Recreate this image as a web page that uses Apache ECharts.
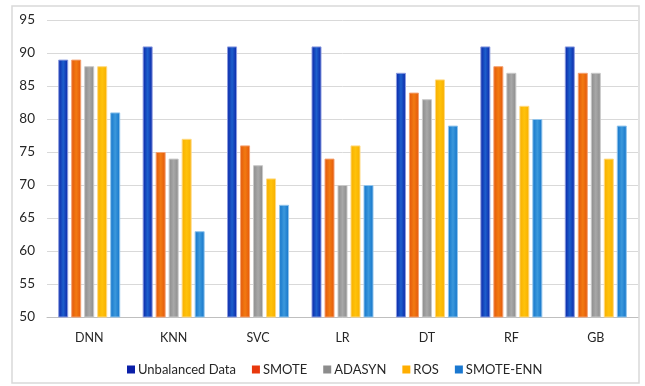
<!DOCTYPE html>
<html>
<head>
<meta charset="utf-8">
<script src="https://cdn.jsdelivr.net/npm/echarts@6/dist/echarts.min.js"></script>
<style>
  html, body { margin: 0; padding: 0; background: #fff; }
  #chart { width: 645px; height: 386px; }
</style>
</head>
<body>
<div id="chart"></div>
<script>
// Accuracy (%) of each classifier under different resampling strategies
const categories = ['DNN', 'KNN', 'SVC', 'LR', 'DT', 'RF', 'GB'];
const seriesNames = ['Unbalanced Data', 'SMOTE', 'ADASYN', 'ROS', 'SMOTE-ENN'];
const unbalanced = [89, 91, 91, 91, 87, 91, 91];
const smote      = [89, 75, 76, 74, 84, 88, 87];
const adasyn     = [88, 74, 73, 70, 83, 87, 87];
const ros        = [88, 77, 71, 76, 86, 82, 74];
const smoteEnn   = [81, 63, 67, 70, 79, 80, 79];
const yTicks = { min: 50, max: 95, interval: 5 };

const values = [unbalanced, smote, adasyn, ros, smoteEnn];

// edge / centre / border / legend colours per series
const palette = [
  { edge: '#0a23a6', mid: '#1d5fcc', border: '#8c9ce0', legend: '#0a1fa8' },
  { edge: '#e2560a', mid: '#f27a12', border: '#f4a070', legend: '#e8380c' },
  { edge: '#8a8a8a', mid: '#a8a8a8', border: '#c8c8c8', legend: '#8c8c8c' },
  { edge: '#f7ae00', mid: '#ffc20a', border: '#ffd980', legend: '#ffae00' },
  { edge: '#1172c8', mid: '#3b98dc', border: '#90c4ec', legend: '#1a78d0' }
];

function barFill(p) {
  return new echarts.graphic.LinearGradient(0, 0, 1, 0, [
    { offset: 0, color: p.edge },
    { offset: 0.5, color: p.mid },
    { offset: 1, color: p.edge }
  ]);
}

const chart = echarts.init(document.getElementById('chart'), null, { renderer: 'canvas' });

const fontFamily = 'Lato, "Open Sans", sans-serif';

chart.setOption({
  animation: false,
  backgroundColor: '#ffffff',
  textStyle: { fontFamily: fontFamily },
  graphic: [{
    type: 'rect',
    shape: { x: 12, y: 6, width: 627, height: 377 },
    style: { fill: 'none', stroke: '#d9d9d9', lineWidth: 1.5 },
    silent: true
  }],
  grid: { left: 47, right: 7, top: 20, bottom: 69 },
  legend: {
    bottom: 5,
    left: 122,
    itemWidth: 8,
    itemHeight: 8,
    itemGap: 16,
    icon: 'rect',
    textStyle: { fontSize: 13, color: '#262626', fontFamily: fontFamily, padding: [0, 0, 0, -2] },
    data: seriesNames.map((n, i) => ({ name: n, itemStyle: { color: palette[i].legend, borderWidth: 0 } }))
  },
  xAxis: {
    type: 'category',
    data: categories,
    axisLine: { show: true, lineStyle: { color: '#bfbfbf', width: 1 } },
    axisTick: { show: false },
    axisLabel: { color: '#262626', fontSize: 12.5, margin: 14, fontFamily: fontFamily }
  },
  yAxis: {
    type: 'value',
    min: yTicks.min,
    max: yTicks.max,
    interval: yTicks.interval,
    axisLine: { show: false },
    axisTick: { show: false },
    axisLabel: { color: '#262626', fontSize: 13.5, margin: 12, fontFamily: fontFamily },
    splitLine: { lineStyle: { color: '#d9d9d9', width: 1 } }
  },
  series: seriesNames.map((name, i) => ({
    name: name,
    type: 'bar',
    data: values[i],
    barWidth: 10,
    barGap: '30%',
    itemStyle: {
      color: barFill(palette[i]),
      borderColor: palette[i].border,
      borderWidth: 1
    }
  }))
});
</script>
</body>
</html>
